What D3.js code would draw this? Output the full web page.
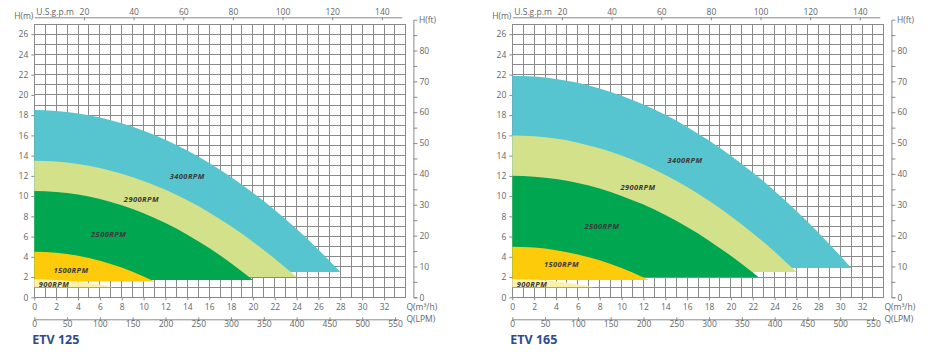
<!DOCTYPE html>
<html><head><meta charset="utf-8">
<script src="https://cdn.jsdelivr.net/npm/d3@7"></script>
<style>
html,body{margin:0;padding:0;background:#fff;}
svg{display:block;font-family:"Open Sans",Roboto,sans-serif;}
</style></head>
<body><svg id="c" width="928" height="355"></svg>
<script>
// ---------- data ----------
const speedLabels = ["3400RPM", "2900RPM", "2500RPM", "1500RPM", "900RPM"];
const qTicks = [0,2,4,6,8,10,12,14,16,18,20,22,24,26,28,30,32];
const lpmTicks = [0,50,100,150,200,250,300,350,400,450,500,550];
const gpmTicks = [20,40,60,80,100,120,140];
const hmTicks = [0,2,4,6,8,10,12,14,16,18,20,22,24,26];
const hftTicks = [0,5,10,15,20,25,30,35,40,45,50,55,60,65,70,75,80,85];

// ETV 125 curves [Q m3/h, H m]
const etv125_3400 = [[0,18.5],[2,18.42],[4,18.17],[6,17.77],[8,17.19],[10,16.46],[12,15.56],[14,14.5],[16,13.28],[18,11.89],[20,10.34],[22,8.63],[24,6.75],[26,4.71],[28,2.5]];
const etv125_2900 = [[0,13.5],[2,13.42],[4,13.18],[6,12.78],[8,12.22],[10,11.5],[12,10.62],[14,9.58],[16,8.38],[18,7.02],[20,5.5],[22,3.82],[24,2.0]];
const etv125_2500 = [[0,10.5],[2,10.41],[4,10.15],[6,9.71],[8,9.09],[10,8.3],[12,7.33],[14,6.19],[16,4.87],[18,3.37],[20,1.7]];
const etv125_1500 = [[0,4.5],[2,4.4],[4,4.11],[6,3.62],[8,2.94],[10,2.06],[11,1.55]];
const etv125_900  = [[0,1.78],[2,1.72],[4,1.54],[6,1.24],[7.2,1.0]];
const etv125_base = [2.5, 2.0, 1.7, 1.55, 1.0];

// ETV 165 curves
const etv165_3400 = [[0,21.9],[2,21.82],[4,21.58],[6,21.19],[8,20.63],[10,19.92],[12,19.05],[14,18.03],[16,16.84],[18,15.49],[20,13.99],[22,12.33],[24,10.51],[26,8.54],[28,6.4],[30,4.11],[31,2.9]];
const etv165_2900 = [[0,16.0],[2,15.92],[4,15.68],[6,15.28],[8,14.72],[10,14.0],[12,13.12],[14,12.09],[16,10.89],[18,9.53],[20,8.01],[22,6.33],[24,4.5],[26,2.5]];
const etv165_2500 = [[0,12.0],[2,11.92],[4,11.68],[6,11.29],[8,10.74],[10,10.02],[12,9.16],[14,8.13],[16,6.94],[18,5.6],[20,4.1],[22,2.44],[22.5,2.0]];
const etv165_1500 = [[0,5.0],[2,4.92],[4,4.66],[6,4.24],[8,3.65],[10,2.89],[12,1.96],[12.5,1.7]];
const etv165_900  = [[0,1.82],[2,1.76],[4,1.58],[6,1.27],[7.4,1.0]];
const etv165_base = [2.9, 2.5, 2.0, 1.7, 1.0];

// label anchors (Q, H)
const etv125_labelAt = [[14.0,11.9],[9.8,9.7],[6.8,6.2],[3.35,2.7],[1.8,1.3]];
const etv165_labelAt = [[15.8,13.5],[11.5,10.9],[8.2,7.0],[4.5,3.3],[1.8,1.3]];

// ---------- style ----------
const fillColors = ["#56c5cf", "#d3e18b", "#00a650", "#fecb0b", "#fcf1a6"];
const axisText = "#666";
const axisLine = "#8a8a8a";
const gridColor = "#8a8a8a";

const svg = d3.select("#c");

function panel(x0, title, curves, bases, labelAt) {
  const g = svg.append("g");
  const pxPerQ = 10.93;
  const x = d3.scaleLinear([0, 34], [x0, x0 + 34 * pxPerQ]);
  const y = d3.scaleLinear([0, 27], [297.3, 297.3 - 27 * 10.12]);

  // grid
  const grid = g.append("g").attr("shape-rendering", "crispEdges")
    .attr("stroke", gridColor).attr("stroke-width", 1);
  d3.range(0, 35).forEach(q => grid.append("line")
    .attr("x1", x(q)).attr("x2", x(q)).attr("y1", y(0)).attr("y2", y(27)));
  d3.range(0, 28).forEach(h => grid.append("line")
    .attr("x1", x(0)).attr("x2", x(34)).attr("y1", y(h)).attr("y2", y(h)));

  // fills
  curves.forEach((pts, i) => {
    const area = d3.area()
      .x(d => x(d[0])).y0(y(bases[i])).y1(d => y(d[1]))
      .curve(d3.curveMonotoneX);
    g.append("path").attr("d", area(pts)).attr("fill", fillColors[i]);
  });

  // labels
  speedLabels.forEach((s, i) => {
    g.append("text").attr("x", x(labelAt[i][0])).attr("y", y(labelAt[i][1]))
      .attr("dy", "0.35em").attr("text-anchor", "middle")
      .attr("font-size", 7.5).attr("font-weight", "bold").attr("font-style", "italic")
      .attr("letter-spacing", 0.4).attr("fill", "#3a3a3a").text(s);
  });

  const styleAxis = sel => {
    sel.selectAll("text").attr("fill", axisText).attr("font-size", 8.5)
      .attr("font-family", "'Open Sans',Roboto,sans-serif");
    sel.selectAll("line").attr("stroke", axisLine);
    sel.selectAll("path").attr("stroke", axisLine);
  };

  // left H(m)
  const ax = g.append("g").attr("transform", `translate(${x0},0)`)
    .call(d3.axisLeft(y).tickValues(hmTicks).tickSize(3).tickPadding(3))
    .call(styleAxis);
  ax.select(".domain").remove();

  // bottom Q(m3/h)
  const bx = g.append("g").attr("transform", `translate(0,${y(0)})`)
    .call(d3.axisBottom(x).tickValues(qTicks).tickSize(3).tickPadding(3.4))
    .call(styleAxis);
  bx.select(".domain").remove();

  // LPM axis
  const xl = d3.scaleLinear([0, 555], [x(0), x(555 * 0.06)]);
  g.append("g").attr("transform", "translate(0,319.3)")
    .call(d3.axisBottom(xl).tickValues(lpmTicks).tickSizeInner(-3).tickSizeOuter(0).tickPadding(1.5))
    .call(styleAxis)
    .call(s => s.selectAll(".tick line").attr("y1", 1.5).attr("y2", -2));

  // top gpm axis
  const xg = d3.scaleLinear([0, 148], [x(0), x(148 / 4.4029)]);
  g.append("g").attr("transform", "translate(0,17.3)")
    .call(d3.axisTop(xg).tickValues(gpmTicks).tickSizeInner(-3).tickSizeOuter(0).tickPadding(2.5))
    .call(styleAxis);

  // right H(ft)
  const yf = d3.scaleLinear([0, 90], [y(0), y(90 / 3.28084)]);
  g.append("g").attr("transform", `translate(${x(34) + 7.5},0)`)
    .call(d3.axisRight(yf).tickValues(hftTicks).tickSizeInner(4).tickSizeOuter(4).tickPadding(2)
      .tickFormat(d => d % 10 === 0 ? d : ""))
    .call(styleAxis);

  const t = (tx, ty, s, anchor) => g.append("text").attr("x", tx).attr("y", ty)
    .attr("dy", "0.35em").attr("text-anchor", anchor || "start")
    .attr("font-size", 8.5).attr("fill", axisText).text(s);
  t(x(34) + 13, yf(90), "H(ft)");
  t(x0 - 1, 16.5, "H(m)", "end");
  t(x0 + 2, 12, "U.S.g.p.m");
  t(x(34) + 0.5, 307, "Q(m³/h)");
  t(x(34) + 0.5, 319.5, "Q(LPM)");

  g.append("text").attr("x", x0 - 2).attr("y", 344)
    .attr("font-size", 12.5).attr("font-weight", "bold").attr("fill", "#2e4b8c")
    .text(title);
}

panel(34.3, "ETV 125", [etv125_3400, etv125_2900, etv125_2500, etv125_1500, etv125_900], etv125_base, etv125_labelAt);
panel(512.3, "ETV 165", [etv165_3400, etv165_2900, etv165_2500, etv165_1500, etv165_900], etv165_base, etv165_labelAt);
</script></body></html>
